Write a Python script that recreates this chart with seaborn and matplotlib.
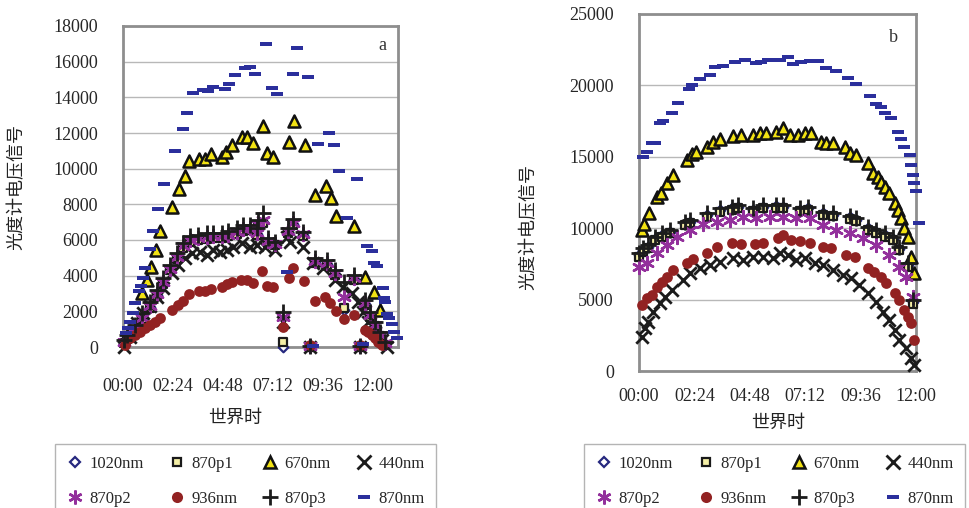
import numpy as np
import matplotlib
matplotlib.use('Agg')
import matplotlib.pyplot as plt
from matplotlib.lines import Line2D
import seaborn as sns

sns.set_style('white')
plt.rcParams['font.family'] = ['Liberation Serif', 'Noto Sans CJK SC']

# ---------------- data (hours UT, photometer voltage signal) ----------------
tick_hours = [0, 2.4, 4.8, 7.2, 9.6, 12.0]
tick_labels = ['00:00', '02:24', '04:48', '07:12', '09:36', '12:00']
series_names = ['1020nm', '870p1', '670nm', '440nm', '870p2', '936nm', '870p3', '870nm']

# panel a
a_t_p3 = [0.05, 0.18, 0.58, 0.90, 1.30, 1.62, 1.94, 2.26, 2.58, 2.90, 3.22, 3.62, 4.02, 4.34,
          4.74, 5.06, 5.46, 5.78, 6.10, 6.42, 6.50, 6.74, 6.98, 7.30, 7.70, 7.94, 8.18, 8.66,
          9.00, 9.22, 9.78, 10.18, 10.61, 11.09, 11.40, 11.62, 11.86, 12.10, 12.34, 12.58]
a_870p3 = [390, 670, 1230, 1890, 2540, 3200, 3850, 4600, 5250, 5850, 6230, 6280, 6380, 6380,
           6380, 6520, 6660, 6840, 6840, 6660, 7120, 7500, 6090, 5910, 1980, 6660, 7160, 6470,
           50, 4970, 4880, 4320, 3660, 4040, 50, 2640, 1980, 1420, 860, 300]
a_870p2 = [300, 550, 1050, 1650, 2300, 2950, 3650, 4400, 5050, 5650, 6000, 6100, 6150, 6200,
           6200, 6300, 6450, 6600, 6650, 6400, 6900, 7100, 5950, 5800, 1700, 6500, 6950, 6350,
           30, 4800, 4700, 4150, 2820, 3850, 30, 2450, 1800, 1250, 700, 200]
a_1020 = [250, 500, 1000, 1600, 2250, 2900, 3600, 4350, 5000, 5600, 5950, 6050, 6100, 6150,
          6150, 6250, 6400, 6550, 6600, 6350, 6850, 7000, 5900, 5750, 0, 6450, 6900, 6300,
          0, 4750, 4650, 4100, 2100, 3800, 0, 2400, 1750, 1200, 650, 150]
a_870p1 = [200, 450, 950, 1550, 2200, 2850, 3550, 4300, 4950, 5550, 5900, 6000, 6050, 6100,
           6100, 6200, 6350, 6500, 6550, 6300, 6800, 6950, 5850, 5700, 300, 6400, 6850, 6250,
           0, 4700, 4600, 4050, 2200, 3750, 0, 2350, 1700, 1150, 600, 100]

a_t_670 = [0.90, 1.14, 1.33, 1.58, 1.78, 2.34, 2.70, 2.98, 3.19, 3.66, 3.94, 4.21, 4.74, 4.94,
           5.22, 5.70, 5.94, 6.23, 6.71, 6.93, 7.22, 7.99, 8.21, 8.74, 9.22, 9.75, 9.97, 10.23,
           11.11, 11.62, 12.05, 12.34]
a_670 = [3010, 3760, 4500, 5440, 6510, 7870, 8860, 9610, 10450, 10520, 10520, 10800, 10670, 10920,
         11330, 11790, 11790, 11420, 12410, 10860, 10670, 11480, 12680, 11330, 8520, 9050, 8340, 7350,
         6800, 3940, 3100, 2080]

a_t_440 = [0.05, 0.34, 0.66, 0.98, 1.30, 1.62, 1.94, 2.34, 2.66, 2.98, 3.30, 3.70, 4.02, 4.34,
           4.66, 4.98, 5.30, 5.70, 6.10, 6.42, 6.82, 7.30, 7.70, 7.86, 8.02, 8.64, 8.98, 9.14,
           9.62, 10.18, 10.58, 10.98, 11.30, 11.38, 11.54, 11.78, 12.10, 12.42, 12.66]
a_440 = [0, 580, 1330, 1890, 2300, 2820, 3290, 4130, 4600, 4970, 5250, 5350, 5160, 5440,
         5350, 5440, 5630, 5810, 5630, 5700, 5630, 5440, 1420, 6190, 5910, 5630, 20, 4690,
         4410, 3760, 3380, 3010, 2540, 20, 1980, 1420, 860, 390, 0]

a_t_936 = [0.10, 0.34, 0.58, 0.82, 1.06, 1.30, 1.54, 1.78, 2.34, 2.66, 2.87, 3.19, 3.66, 3.94,
           4.21, 4.74, 5.01, 5.22, 5.65, 5.94, 6.23, 6.65, 6.93, 7.19, 7.70, 7.99, 8.18, 8.70,
           8.98, 9.22, 9.70, 9.94, 10.23, 10.61, 11.09, 11.38, 11.62, 11.78, 11.94, 12.10, 12.26, 12.42]
a_936 = [100, 490, 670, 860, 1050, 1230, 1420, 1610, 2080, 2360, 2580, 2950, 3160, 3160,
         3240, 3380, 3520, 3660, 3760, 3760, 3570, 4280, 3440, 3350, 1140, 3850, 4410, 3700,
         110, 2600, 2790, 2450, 2040, 1550, 1790, 110, 950, 860, 670, 490, 300, 110]

a_t_870 = [0.14, 0.26, 0.34, 0.46, 0.58, 0.78, 0.85, 0.94, 1.06, 1.30, 1.46, 1.70, 1.97, 2.50,
           2.87, 3.09, 3.34, 3.86, 4.10, 4.34, 4.90, 5.10, 5.38, 5.86, 6.10, 6.34, 6.87, 7.14,
           7.38, 7.89, 8.15, 8.37, 8.90, 9.14, 9.38, 9.89, 10.13, 10.38, 10.77, 11.25, 11.54, 11.73,
           11.94, 12.05, 12.21, 12.47, 12.53, 12.58, 12.66, 12.79, 12.90, 13.01, 13.14]
a_870 = [770, 1050, 1420, 1890, 2490, 3160, 3420, 3850, 4410, 5480, 6490, 7720, 9120, 11010,
         12210, 13100, 14260, 14410, 14360, 14570, 14450, 14730, 15250, 15630, 15690, 15290, 16980, 14550,
         14170, 4190, 15310, 16790, 15130, 70, 11390, 11990, 11350, 9870, 7220, 9440, 170, 5690,
         5400, 4690, 4560, 3330, 2770, 2540, 1830, 1610, 1270, 820, 490]

# panel b
b_t_p3 = [0.00, 0.19, 0.40, 0.69, 0.98, 1.34, 1.99, 2.20, 2.93, 3.50, 4.01, 4.29, 4.94, 5.37,
          5.95, 6.24, 6.96, 7.32, 7.97, 8.40, 9.12, 9.41, 9.91, 10.28, 10.64, 10.99, 11.28, 11.64, 11.86]
b_870p3 = [8240, 8590, 8820, 9400, 9640, 9870, 10460, 10570, 11040, 11390, 11510, 11620, 11390, 11620,
           11620, 11620, 11390, 11510, 11160, 11040, 10850, 10690, 10100, 9870, 9640, 9400, 8700, 7540, 4970]
b_1020 = [8100, 8450, 8700, 9250, 9500, 9750, 10300, 10450, 10900, 11250, 11400, 11500, 11300, 11500,
          11550, 11500, 11300, 11400, 11050, 10950, 10750, 10600, 10000, 9750, 9500, 9250, 8550, 7400, 4800]
b_870p1 = [8000, 8350, 8600, 9150, 9400, 9650, 10200, 10350, 10800, 11150, 11300, 11400, 11200, 11400,
           11400, 11400, 11200, 11300, 10950, 10850, 10650, 10500, 9900, 9650, 9400, 9150, 8450, 7300, 4700]

b_t_p2 = [0.00, 0.33, 0.76, 1.20, 1.63, 2.20, 2.78, 3.36, 3.93, 4.51, 5.09, 5.66, 6.24, 6.82,
          7.39, 7.97, 8.55, 9.12, 9.70, 10.28, 10.85, 11.28, 11.57, 11.86]
b_870p2 = [7300, 7540, 8240, 8820, 9400, 9870, 10290, 10460, 10570, 10810, 10690, 10810, 10810, 10690,
           10690, 10220, 9870, 9640, 9290, 8820, 8120, 7300, 6600, 5200]

b_t_670 = [0.12, 0.22, 0.45, 0.76, 0.94, 1.20, 1.48, 2.06, 2.28, 2.49, 2.93, 3.21, 3.50, 4.08,
           4.44, 4.94, 5.23, 5.52, 5.95, 6.24, 6.53, 6.89, 7.18, 7.47, 7.90, 8.11, 8.40, 8.91,
           9.12, 9.41, 9.91, 10.13, 10.35, 10.49, 10.64, 10.85, 11.07, 11.21, 11.36, 11.50, 11.64,
           11.79, 11.93]
b_670 = [9870, 10290, 11040, 12210, 12490, 13140, 13730, 14780, 15200, 15360, 15710, 16060, 16230, 16460,
         16530, 16530, 16650, 16650, 16760, 17000, 16530, 16530, 16650, 16650, 16060, 15950, 15950, 15710,
         15290, 15130, 14540, 13840, 13610, 13260, 12910, 12440, 11740, 11270, 10690, 9990, 9400,
         8000, 6840]

b_t_440 = [0.12, 0.26, 0.40, 0.62, 0.91, 1.12, 1.41, 1.92, 2.20, 2.64, 3.07, 3.50, 4.08, 4.51,
           4.94, 5.37, 5.81, 6.10, 6.46, 6.82, 7.18, 7.61, 7.97, 8.40, 8.83, 9.20, 9.55, 9.91,
           10.28, 10.56, 10.85, 11.07, 11.28, 11.57, 11.79, 11.93]
b_440 = [2400, 2990, 3450, 4150, 4740, 5200, 5670, 6370, 6840, 7190, 7420, 7650, 7890, 7770,
         8000, 8000, 7890, 8240, 8120, 7770, 7890, 7540, 7420, 7070, 6720, 6490, 6020, 5440,
         4850, 4150, 3570, 2870, 2170, 1590, 890, 420]

b_t_936 = [0.12, 0.33, 0.55, 0.76, 0.98, 1.20, 1.48, 2.06, 2.35, 2.93, 3.36, 4.01, 4.44, 5.02,
           5.37, 6.02, 6.24, 6.60, 6.96, 7.39, 7.97, 8.33, 8.98, 9.34, 9.91, 10.20, 10.49, 10.71,
           11.07, 11.28, 11.50, 11.64, 11.79, 11.93]
b_936 = [4620, 5090, 5320, 5900, 6250, 6600, 7070, 7540, 7820, 8240, 8700, 8940, 8890, 8870,
         8990, 9290, 9520, 9170, 9120, 8990, 8700, 8590, 8120, 8000, 7190, 6950, 6600, 6140,
         5440, 4970, 4270, 3800, 3340, 2170]

b_t_870 = [0.19, 0.33, 0.55, 0.69, 0.91, 1.05, 1.41, 1.70, 2.18, 2.28, 2.64, 3.07, 3.29, 3.65,
           4.15, 4.58, 5.09, 5.30, 5.59, 6.10, 6.46, 6.67, 7.03, 7.39, 7.75, 8.11, 8.55, 9.05,
           9.41, 9.99, 10.28, 10.49, 10.64, 10.93, 11.21, 11.36, 11.50, 11.72, 11.79, 11.86, 11.93,
           12.01, 12.15]
b_870 = [15010, 15360, 15950, 15990, 17350, 17530, 18050, 18750, 19730, 20030, 20450, 20730, 21310, 21360,
         21660, 21780, 21550, 21620, 21780, 21780, 22010, 21480, 21620, 21710, 21730, 21200, 21030, 20500,
         20080, 19260, 18700, 18510, 18090, 17700, 16760, 16230, 15710, 15130, 14430, 13730, 13140,
         12630, 10340]

panel_a = {
    '1020nm': (a_t_p3, a_1020), '870p1': (a_t_p3, a_870p1), '670nm': (a_t_670, a_670),
    '440nm': (a_t_440, a_440), '870p2': (a_t_p3, a_870p2), '936nm': (a_t_936, a_936),
    '870p3': (a_t_p3, a_870p3), '870nm': (a_t_870, a_870),
}
panel_b = {
    '1020nm': (b_t_p3, b_1020), '870p1': (b_t_p3, b_870p1), '670nm': (b_t_670, b_670),
    '440nm': (b_t_440, b_440), '870p2': (b_t_p2, b_870p2), '936nm': (b_t_936, b_936),
    '870p3': (b_t_p3, b_870p3), '870nm': (b_t_870, b_870),
}

# ---------------- styles ----------------
dash = [(-1, -0.38), (1, -0.38), (1, 0.38), (-1, 0.38), (-1, -0.38)]
navy = '#2b2f9c'
styles = {
    '1020nm': dict(marker='D', s=24, color='white', edgecolor='#26287f', linewidth=1.6),
    '870p1': dict(marker='s', s=40, color='#f4efa6', edgecolor='#1a1a1a', linewidth=1.6),
    '670nm': dict(marker='^', s=75, color='#f2e213', edgecolor='#111111', linewidth=1.8),
    '440nm': dict(marker='x', s=80, color='#1c1c1c', linewidth=2.0),
    '870p2': dict(marker=(6, 2, 0), s=85, color='#93309c', linewidth=1.8),
    '936nm': dict(marker='o', s=60, color='#922222', edgecolor='#922222', linewidth=0),
    '870p3': dict(marker='+', s=120, color='#1c1c1c', linewidth=2.0),
    '870nm': dict(marker=dash, s=70, color=navy, edgecolor=navy, linewidth=0),
}
legend_ms = {'1020nm': 5, '870p1': 6, '670nm': 8, '440nm': 10, '870p2': 10,
             '936nm': 8, '870p3': 12, '870nm': 8}


def draw_panel(ax, data, xmax, ymax, ystep, xpad, letter, letter_pos):
    for name in series_names:
        t, v = data[name]
        sns.scatterplot(x=t, y=v, ax=ax, clip_on=False, zorder=3, legend=False, **styles[name])
    ax.set_xlim(0, xmax)
    ax.set_ylim(0, ymax)
    ax.set_xticks(tick_hours)
    ax.set_xticklabels(tick_labels)
    ax.set_yticks(list(range(0, ymax + 1, ystep)))
    ax.yaxis.grid(True, color='#b8b8b8', lw=1.0)
    ax.set_axisbelow(True)
    ax.tick_params(axis='x', direction='in', length=6, color='#a8a8a8', pad=xpad, labelsize=13)
    ax.tick_params(axis='y', length=0, pad=18, labelsize=13)
    for sp in ax.spines.values():
        sp.set_color('#8e8e8e')
        sp.set_linewidth(2)
    ax.set_xlabel('')
    ax.set_ylabel('')
    ax.text(letter_pos[0], letter_pos[1], letter, transform=ax.transAxes,
            fontsize=13, ha='center', va='center', color='#333333')


def legend_handles():
    hs = []
    for name in series_names:
        st = styles[name]
        m = st['marker']
        fc = st.get('color')
        ec = st.get('edgecolor', st.get('color'))
        hs.append(Line2D([], [], linestyle='none', marker=m, markersize=legend_ms[name],
                         markerfacecolor=fc, markeredgecolor=ec,
                         markeredgewidth=st.get('linewidth', 1) if st.get('linewidth', 1) > 0 else 0))
    # column-major order so rows read like the original legend
    order = [0, 4, 1, 5, 2, 6, 3, 7]
    return [hs[i] for i in order], [series_names[i] for i in order]


W, H = 970, 508
fig = plt.figure(figsize=(9.7, 5.08), dpi=100)
ax_a = fig.add_axes([123 / W, 1 - 347 / H, 275 / W, 321 / H])
ax_b = fig.add_axes([639 / W, 1 - 371 / H, 277 / W, 357 / H])

draw_panel(ax_a, panel_a, 13.2, 18000, 2000, 22, 'a', (0.945, 0.94))
draw_panel(ax_b, panel_b, 12.0, 25000, 5000, 12, 'b', (0.92, 0.935))

for x, y in [(17, 187), (529, 227)]:
    fig.text(x / W, 1 - y / H, '光度计电压信号', rotation=90, ha='center', va='center',
             fontsize=13, color='#222222')
for x, y in [(235, 418), (778, 423)]:
    fig.text(x / W, 1 - y / H, '世界时', ha='center', va='center', fontsize=13, color='#222222')

for x0 in [55, 584]:
    hs, ls = legend_handles()
    fig.legend(hs, ls, ncol=4, loc='upper left', bbox_to_anchor=(x0 / W, 1 - 444 / H),
               frameon=True, fancybox=False, edgecolor='#b4b4b4', fontsize=12,
               handlelength=1.0, handletextpad=0.35, columnspacing=1.5,
               borderpad=0.7, labelspacing=1.15, borderaxespad=0, framealpha=1)

plt.savefig('out.png', dpi=100)
plt.close()
